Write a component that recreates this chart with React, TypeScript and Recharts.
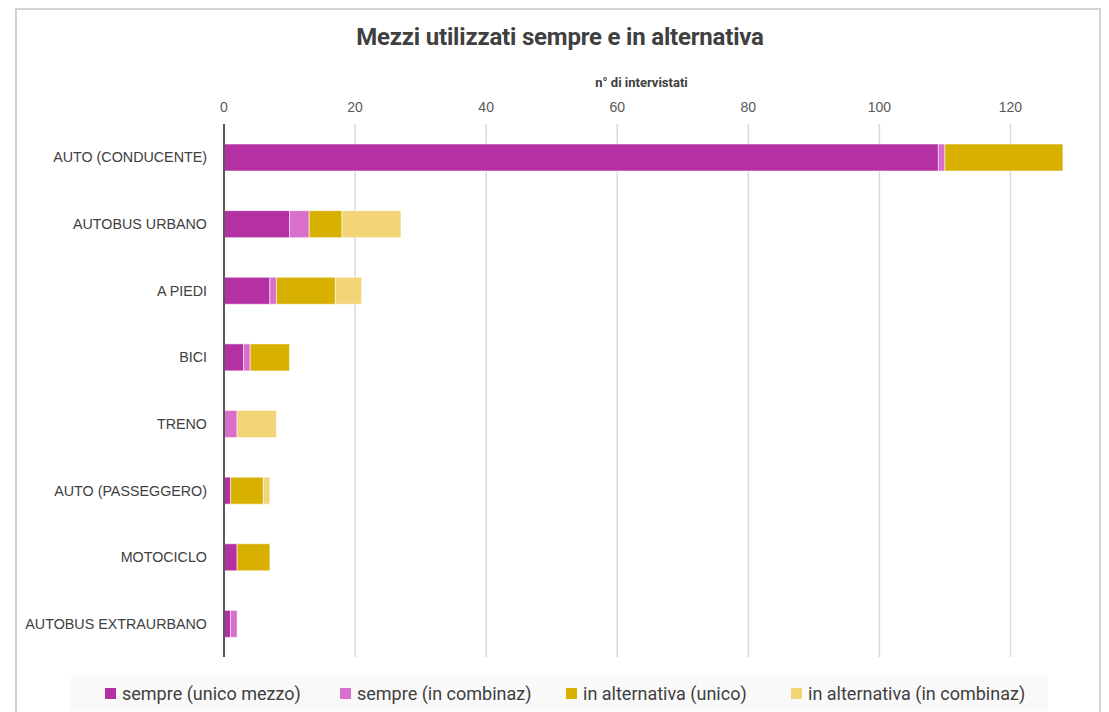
import React from "react";
import { BarChart, Bar, XAxis, YAxis, CartesianGrid } from "recharts";

const categories = [
  "AUTO (CONDUCENTE)",
  "AUTOBUS URBANO",
  "A PIEDI",
  "BICI",
  "TRENO",
  "AUTO (PASSEGGERO)",
  "MOTOCICLO",
  "AUTOBUS EXTRAURBANO",
];
const sempreUnico = [109, 10, 7, 3, 0, 1, 2, 1];
const sempreComb = [1, 3, 1, 1, 2, 0, 0, 1];
const altUnico = [18, 5, 9, 6, 0, 5, 5, 0];
const altComb = [0, 9, 4, 0, 6, 1, 0, 0];
const xTicks = [0, 20, 40, 60, 80, 100, 120];

const seriesNames = [
  "sempre (unico mezzo)",
  "sempre (in combinaz)",
  "in alternativa (unico)",
  "in alternativa (in combinaz)",
];
const colors = ["#b530a3", "#d86fcc", "#d8b000", "#f3d578"];

const data = categories.map((c, i) => ({
  name: c,
  s1: sempreUnico[i],
  s2: sempreComb[i],
  s3: altUnico[i],
  s4: altComb[i],
}));

const legendLeft = [97, 332, 558, 783];

export default function App() {
  const keys = ["s1", "s2", "s3", "s4"];
  return (
    <div style={{ position: "relative", width: 1093, height: 704, overflow: "hidden" }}>
      <div
        style={{
          position: "absolute",
          left: 7,
          top: 0,
          width: 1086,
          height: 720,
          border: "2px solid #d4d4d4",
          boxSizing: "border-box",
        }}
      />
      <div
        style={{
          position: "absolute",
          left: 0,
          top: 15,
          width: 1104,
          textAlign: "center",
          fontFamily: "'Roboto', sans-serif",
          fontWeight: "bold",
          fontSize: 24,
          letterSpacing: -0.2,
          color: "#404040",
        }}
      >
        Mezzi utilizzati sempre e in alternativa
      </div>
      <div
        style={{
          position: "absolute",
          left: 0,
          top: 67,
          width: 1267,
          textAlign: "center",
          fontFamily: "'Roboto', sans-serif",
          fontWeight: "bold",
          fontSize: 13,
          color: "#404040",
        }}
      >
        n° di intervistati
      </div>
      <div style={{ position: "absolute", left: 0, top: 0 }}>
        <BarChart
          width={1093}
          height={704}
          data={data}
          layout="vertical"
          margin={{ top: 86, right: 25, bottom: 55, left: 0 }}
          barSize={27}
        >
          <CartesianGrid
            horizontal={false}
            stroke="#d9d9d9"
            strokeWidth={1.5}
            verticalValues={xTicks}
          />
          <XAxis
            type="number"
            orientation="top"
            domain={[0, 130]}
            ticks={xTicks}
            allowDataOverflow
            axisLine={false}
            tickLine={false}
            tickSize={0}
            tickMargin={12}
            height={30}
            tick={{ fill: "#595959", fontSize: 14, fontFamily: "'Liberation Sans', Arial, sans-serif" }}
          />
          <YAxis
            type="category"
            dataKey="name"
            width={216}
            axisLine={{ stroke: "#595959", strokeWidth: 2 }}
            tickLine={false}
            tickSize={0}
            tickMargin={17}
            interval={0}
            tick={{ fill: "#404040", fontSize: 14.3, fontFamily: "'Liberation Sans', Arial, sans-serif" }}
          />
          {keys.map((k, i) => (
            <Bar
              key={k}
              dataKey={k}
              name={seriesNames[i]}
              stackId="a"
              fill={colors[i]}
              stroke="#ffffff"
              strokeOpacity={0.55}
              strokeWidth={1}
              isAnimationActive={false}
            />
          ))}
        </BarChart>
      </div>
      <div
        style={{
          position: "absolute",
          left: 63,
          top: 667,
          width: 977,
          height: 36,
          background: "#f9f9f9",
        }}
      >
        {seriesNames.map((n, i) => (
          <div
            key={n}
            style={{
              position: "absolute",
              left: legendLeft[i] - 63,
              top: 0,
              height: 36,
              display: "flex",
              alignItems: "center",
              fontFamily: "'Roboto', sans-serif",
              fontSize: 18,
              color: "#404040",
              whiteSpace: "nowrap",
            }}
          >
            <span
              style={{
                display: "inline-block",
                width: 11,
                height: 11,
                background: colors[i],
                marginRight: 6,
              }}
            />
            {n}
          </div>
        ))}
      </div>
    </div>
  );
}
